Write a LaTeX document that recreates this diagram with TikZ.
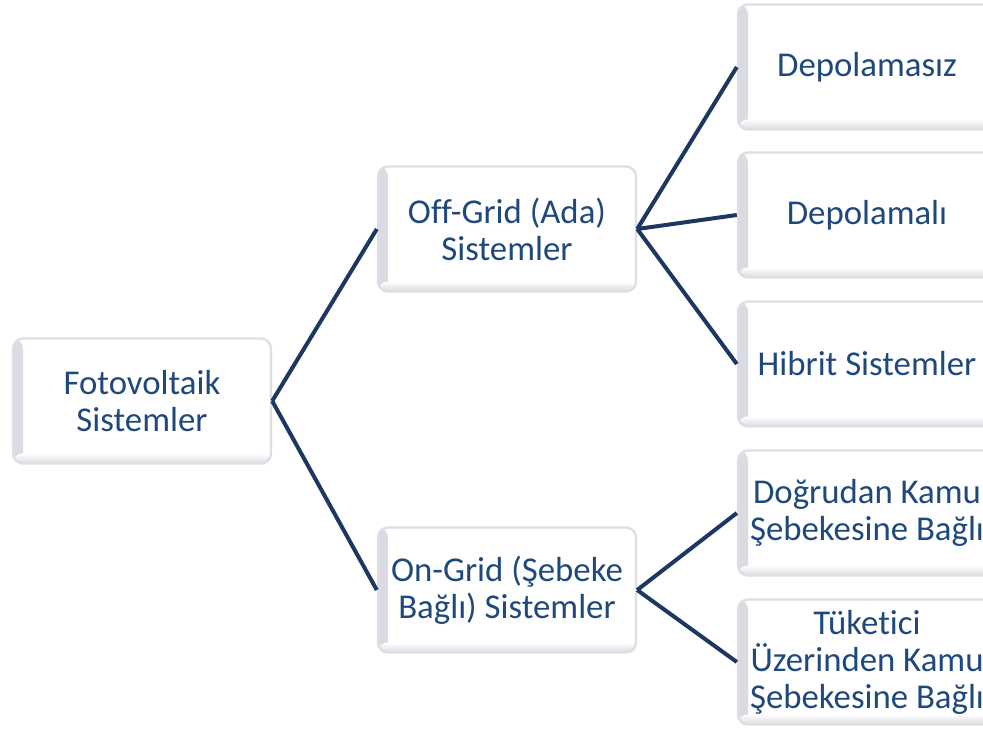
\documentclass[tikz,border=0pt]{standalone}
\usepackage{fontspec}
\setmainfont{Carlito}[Ligatures=NoCommon]
\usepackage{xcolor}
\definecolor{pvtext}{RGB}{31,73,125}
\definecolor{pvline}{RGB}{28,56,98}
\definecolor{pvedge}{RGB}{222,222,228}
\definecolor{pvshade}{RGB}{218,218,226}
\usetikzlibrary{positioning}

\begin{document}
\begin{tikzpicture}[x=0.5pt, y=-0.5pt,
  box/.style={rectangle, rounded corners=5pt, draw=pvedge, line width=1.2pt, fill=white,
              minimum width=129pt, minimum height=62.5pt, inner sep=0pt, align=center,
              font=\fontsize{17.4}{18.5}\selectfont, text=pvtext,
              path picture={
                \fill[left color=pvshade, right color=white] (path picture bounding box.south west) rectangle ([xshift=5pt]path picture bounding box.north west);
                \fill[top color=white, bottom color=pvshade] (path picture bounding box.south west) rectangle ([yshift=5pt]path picture bounding box.south east);
              }},
  link/.style={draw=pvline, line width=2pt}
]
\clip (0,0) rectangle (983,728);

% Root
\node[box] (pv) at (142,401) {Fotovoltaik\\Sistemler};

% Level 1
\node[box] (off) at (507,229) {Off-Grid (Ada)\\Sistemler};
\node[box] (on) at (507,590) {On-Grid (Şebeke\\Bağlı) Sistemler};

% Level 2: off-grid
\node[box] (nostore) at (867,67) {Depolamasız};
\node[box] (store) at (867,215) {Depolamalı};
\node[box] (hybrid) at (867,364) {Hibrit Sistemler};

% Level 2: on-grid
\node[box] (direct) at (867,513) {Doğrudan Kamu\\Şebekesine Bağlı};
\node[box] (consumer) at (867,662) {Tüketici\\Üzerinden Kamu\\Şebekesine Bağlı};

% Connectors
\draw[link] (pv.east) -- (off.west);
\draw[link] (pv.east) -- (on.west);
\draw[link] (off.east) -- (nostore.west);
\draw[link] (off.east) -- (store.west);
\draw[link] (off.east) -- (hybrid.west);
\draw[link] (on.east) -- (direct.west);
\draw[link] (on.east) -- (consumer.west);
\end{tikzpicture}
\end{document}
